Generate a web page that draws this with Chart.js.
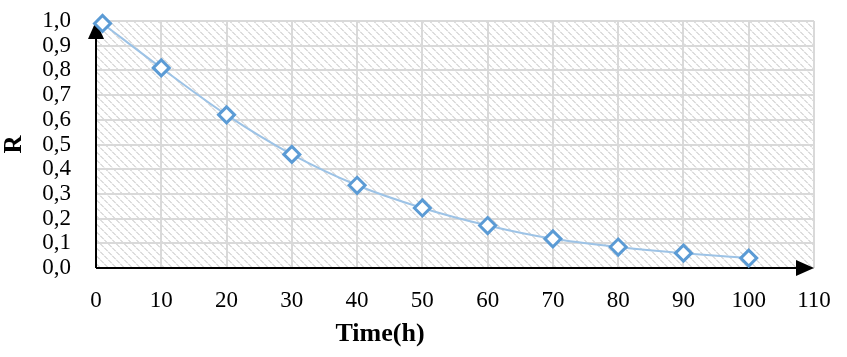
<!DOCTYPE html>
<html>
<head>
<meta charset="utf-8">
<script src="https://cdn.jsdelivr.net/npm/chart.js@4.4.1/dist/chart.umd.min.js"></script>
<style>
  html, body { margin: 0; padding: 0; background: #ffffff; }
  #wrap { width: 847px; height: 357px; }
</style>
</head>
<body>
<div id="wrap"><canvas id="c" width="847" height="357"></canvas></div>
<script>
// Data
const timeHours = [1, 10, 20, 30, 40, 50, 60, 70, 80, 90, 100];
const rValues   = [0.99, 0.81, 0.62, 0.46, 0.335, 0.243, 0.172, 0.118, 0.085, 0.060, 0.040];
const xTickLabels = [0, 10, 20, 30, 40, 50, 60, 70, 80, 90, 100, 110];
const yTickLabels = ['0,0','0,1','0,2','0,3','0,4','0,5','0,6','0,7','0,8','0,9','1,0'];
const xTitle = 'Time(h)';
const yTitle = 'R';

const FONT = "'Liberation Serif', 'Times New Roman', serif";

function makeHatch() {
  const p = document.createElement('canvas');
  p.width = 8; p.height = 8;
  const g = p.getContext('2d');
  g.fillStyle = '#ffffff';
  g.fillRect(0, 0, 8, 8);
  for (let i = 0; i < 8; i++) {
    g.fillStyle = (i % 4 === 3) ? '#f2f2f2' : '#dddddd';
    g.fillRect(i, i, 1, 1);
    g.fillRect((i + 1) % 8, i, 1, 1);
  }
  return p;
}

const hatchPlugin = {
  id: 'hatch',
  beforeDraw(chart) {
    const { ctx, chartArea: a } = chart;
    ctx.save();
    ctx.fillStyle = ctx.createPattern(makeHatch(), 'repeat');
    ctx.fillRect(a.left, a.top, a.right - a.left, a.bottom - a.top);
    ctx.restore();
  },
  beforeDatasetsDraw(chart) {
    const { ctx, chartArea: a } = chart;
    ctx.save();
    ctx.strokeStyle = '#000000';
    ctx.fillStyle = '#000000';
    ctx.lineWidth = 2;
    // y axis line + arrow
    ctx.beginPath();
    ctx.moveTo(a.left, a.bottom);
    ctx.lineTo(a.left, a.top + 10);
    ctx.stroke();
    ctx.beginPath();
    ctx.moveTo(a.left, a.top);
    ctx.lineTo(a.left - 8, a.top + 18);
    ctx.lineTo(a.left + 8, a.top + 18);
    ctx.closePath();
    ctx.fill();
    // x axis line + arrow
    ctx.beginPath();
    ctx.moveTo(a.left, a.bottom);
    ctx.lineTo(a.right - 10, a.bottom);
    ctx.stroke();
    ctx.beginPath();
    ctx.moveTo(a.right, a.bottom);
    ctx.lineTo(a.right - 18, a.bottom - 8);
    ctx.lineTo(a.right - 18, a.bottom + 8);
    ctx.closePath();
    ctx.fill();
    ctx.restore();
  },
  afterDraw(chart) {
    const { ctx } = chart;
    ctx.save();
    ctx.fillStyle = '#000000';
    ctx.font = "bold 26px " + FONT;
    ctx.textAlign = 'center';
    ctx.textBaseline = 'middle';
    ctx.fillText(xTitle, 380, 334);
    ctx.restore();
  }
};

new Chart(document.getElementById('c'), {
  type: 'line',
  data: {
    datasets: [{
      data: timeHours.map((t, i) => ({ x: t, y: rValues[i] })),
      borderColor: '#9dc3e6',
      borderWidth: 2,
      tension: 0.4,
      cubicInterpolationMode: 'monotone',
      pointStyle: 'rectRot',
      pointRadius: 8,
      pointBorderWidth: 3,
      pointBorderColor: '#5b9bd5',
      pointBackgroundColor: '#ffffff',
      fill: false,
      clip: false
    }]
  },
  options: {
    responsive: false,
    animation: false,
    layout: { autoPadding: false, padding: { top: 21, right: 33, left: 0, bottom: 0 } },
    plugins: { legend: { display: false }, tooltip: { enabled: false } },
    scales: {
      x: {
        type: 'linear',
        min: 0, max: 110,
        afterFit(s) { s.height = 89; },
        afterBuildTicks(s) { s.ticks = xTickLabels.map(v => ({ value: v })); },
        ticks: {
          autoSkip: false,
          padding: 0,
          color: '#000000',
          font: { family: FONT, size: 23 },
          maxRotation: 0,
          callback: (v) => String(v)
        },
        grid: { color: '#d9d9d9', lineWidth: 2, drawTicks: true, tickLength: 19, tickColor: 'rgba(0,0,0,0)' },
        border: { display: false }
      },
      y: {
        min: 0, max: 1,
        afterFit(s) { s.width = 96; },
        afterBuildTicks(s) { s.ticks = yTickLabels.map((l, i) => ({ value: i / 10 })); },
        ticks: {
          autoSkip: false,
          padding: 0,
          color: '#000000',
          font: { family: FONT, size: 23, lineHeight: 1 },
          callback: (v) => yTickLabels[Math.round(v * 10)]
        },
        grid: { color: '#d9d9d9', lineWidth: 2, drawTicks: true, tickLength: 25, tickColor: 'rgba(0,0,0,0)' },
        border: { display: false },
        title: {
          display: true,
          text: yTitle,
          color: '#000000',
          font: { family: FONT, size: 25, weight: 'bold' },
          padding: 0
        }
      }
    }
  },
  plugins: [hatchPlugin]
});
</script>
</body>
</html>
